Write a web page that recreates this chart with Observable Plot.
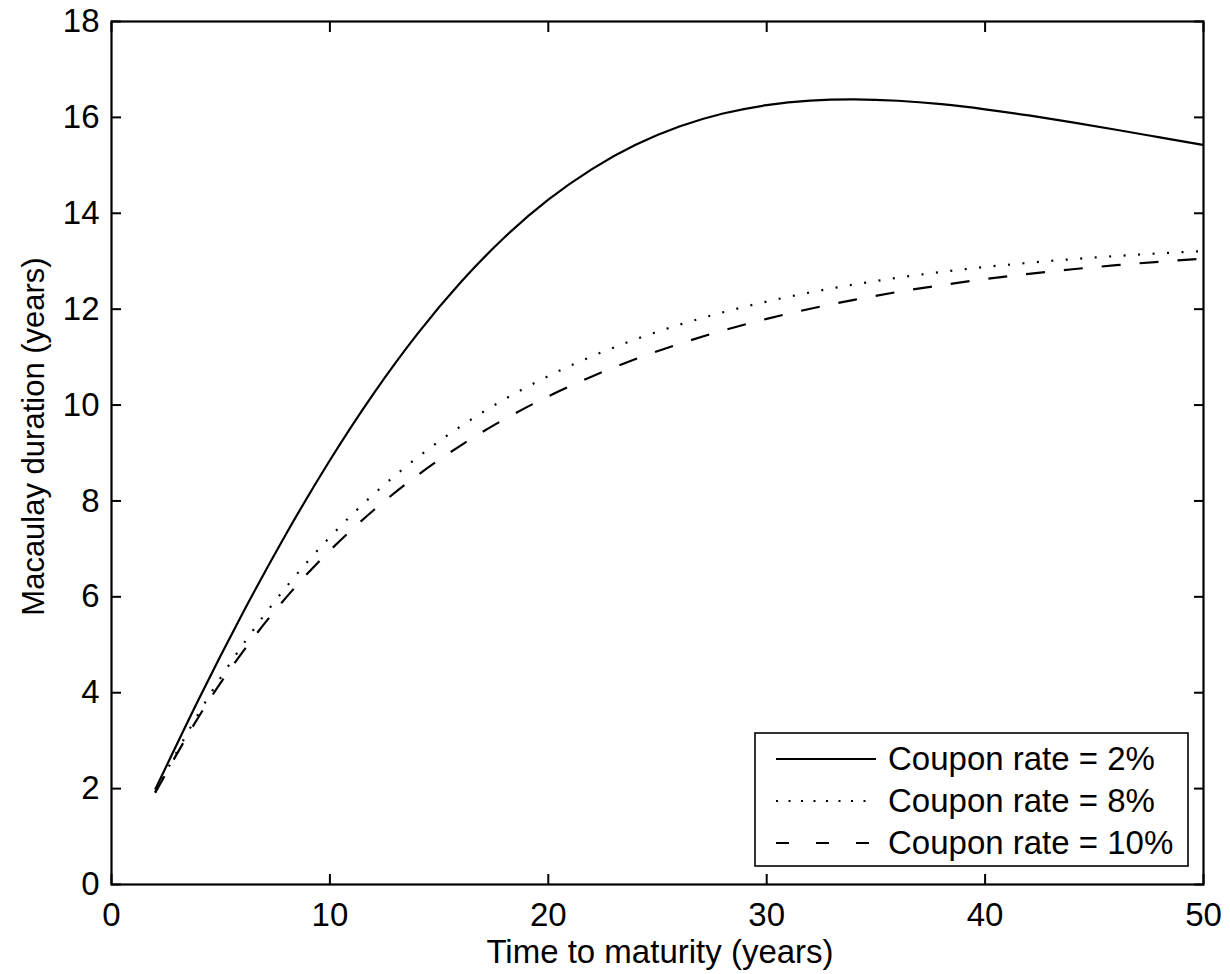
<!DOCTYPE html>
<html>
<head>
<meta charset="utf-8">
<script src="https://cdn.jsdelivr.net/npm/d3@7"></script>
<script src="https://cdn.jsdelivr.net/npm/@observablehq/plot@0.6"></script>
<style>
  html, body { margin: 0; padding: 0; background: #fff; }
  #chart { width: 1230px; height: 974px; }
</style>
</head>
<body>
<div id="chart"></div>
<script>
// ---- Data ----
const maturity = [2, 4, 6, 8, 10, 12, 14, 16, 18, 20, 22, 24, 26, 28, 30, 32, 34, 36, 38, 40, 42, 44, 46, 48, 50];
const duration2 = [1.979, 3.868, 5.652, 7.316, 8.848, 10.238, 11.479, 12.566, 13.500, 14.283, 14.922, 15.427, 15.809, 16.080, 16.256, 16.350, 16.376, 16.347, 16.275, 16.169, 16.041, 15.896, 15.742, 15.583, 15.424];
const duration8 = [1.926, 3.577, 4.993, 6.206, 7.247, 8.139, 8.904, 9.560, 10.122, 10.604, 11.017, 11.371, 11.675, 11.935, 12.158, 12.350, 12.514, 12.655, 12.775, 12.879, 12.967, 13.043, 13.108, 13.164, 13.212];
const duration10 = [1.911, 3.504, 4.847, 5.989, 6.966, 7.806, 8.531, 9.160, 9.707, 10.182, 10.597, 10.960, 11.277, 11.554, 11.797, 12.009, 12.195, 12.359, 12.501, 12.627, 12.736, 12.832, 12.917, 12.990, 13.055];
const seriesLabels = ["Coupon rate = 2%", "Coupon rate = 8%", "Coupon rate = 10%"];
const xTicks = [0, 10, 20, 30, 40, 50];
const yTicks = [0, 2, 4, 6, 8, 10, 12, 14, 16, 18];
const xTitle = "Time to maturity (years)";
const yTitle = "Macaulay duration (years)";

// ---- Layout / styles ----
const W = 1230, H = 974;
const M = {left: 111, right: 27, top: 21, bottom: 90};
const FONT = "'Liberation Sans', Arial, Helvetica, sans-serif";
const FS = 33;
const dashStyles = [null, "2,12.5", "19,19"];

const toRows = (vals) => maturity.map((t, i) => ({t, d: vals[i]}));
const rows2 = toRows(duration2), rows8 = toRows(duration8), rows10 = toRows(duration10);

const lineOpts = (dash) => ({
  x: "t", y: "d", stroke: "black", strokeWidth: 2.2, curve: "natural",
  strokeDasharray: dash, strokeLinecap: "butt"
});

const chart = Plot.plot({
  width: W, height: H,
  marginLeft: M.left, marginRight: M.right, marginTop: M.top, marginBottom: M.bottom,
  style: {fontFamily: FONT, fontSize: FS + "px", background: "white", color: "black"},
  x: {domain: [0, 50]},
  y: {domain: [0, 18]},
  marks: [
    Plot.line(rows2, lineOpts(dashStyles[0])),
    Plot.line(rows8, lineOpts(dashStyles[1])),
    Plot.line(rows10, lineOpts(dashStyles[2])),
    Plot.axisX({anchor: "bottom", ticks: xTicks, tickSize: -10, tickPadding: 28, strokeWidth: 2, label: null, fontSize: FS, fill: "black"}),
    Plot.axisX({anchor: "top", ticks: xTicks, tickSize: -10, tickFormat: () => "", strokeWidth: 2, label: null}),
    Plot.axisY({anchor: "left", ticks: yTicks, tickSize: -10, tickPadding: 22, strokeWidth: 2, label: null, fontSize: FS, fill: "black"}),
    Plot.axisY({anchor: "right", ticks: yTicks, tickSize: -10, tickFormat: () => "", strokeWidth: 2, label: null}),
    Plot.frame({stroke: "black", strokeWidth: 2.2})
  ]
});

document.getElementById("chart").appendChild(chart);

// ---- Axis titles and legend ----
const svg = d3.select(chart);
const frameL = M.left, frameR = W - M.right, frameT = M.top, frameB = H - M.bottom;

svg.append("text")
  .attr("x", (frameL + frameR) / 2 + 3)
  .attr("y", H - 11)
  .attr("text-anchor", "middle")
  .attr("font-family", FONT).attr("font-size", FS).attr("fill", "black")
  .text(xTitle);

svg.append("text")
  .attr("transform", `translate(${44},${(frameT + frameB) / 2 - 16}) rotate(-90)`)
  .attr("text-anchor", "middle")
  .attr("font-family", FONT).attr("font-size", 31).attr("fill", "black")
  .text(yTitle);

const legW = 433, legH = 133;
const legX = frameR - 15 - legW, legY = frameB - 18 - legH;
const leg = svg.append("g");
leg.append("rect")
  .attr("x", legX).attr("y", legY).attr("width", legW).attr("height", legH)
  .attr("fill", "white").attr("stroke", "black").attr("stroke-width", 1.6);

const legendDash = [null, "2,10.5", "13,27"];
seriesLabels.forEach((lab, i) => {
  const cy = legY + 26 + i * 42;
  leg.append("line")
    .attr("x1", legX + 21).attr("x2", legX + 121)
    .attr("y1", cy).attr("y2", cy)
    .attr("stroke", "black").attr("stroke-width", 2)
    .attr("stroke-dasharray", legendDash[i]);
  leg.append("text")
    .attr("x", legX + 133).attr("y", cy + 11)
    .attr("text-anchor", "start")
    .attr("font-family", FONT).attr("font-size", FS).attr("fill", "black")
    .text(lab);
});
</script>
</body>
</html>
